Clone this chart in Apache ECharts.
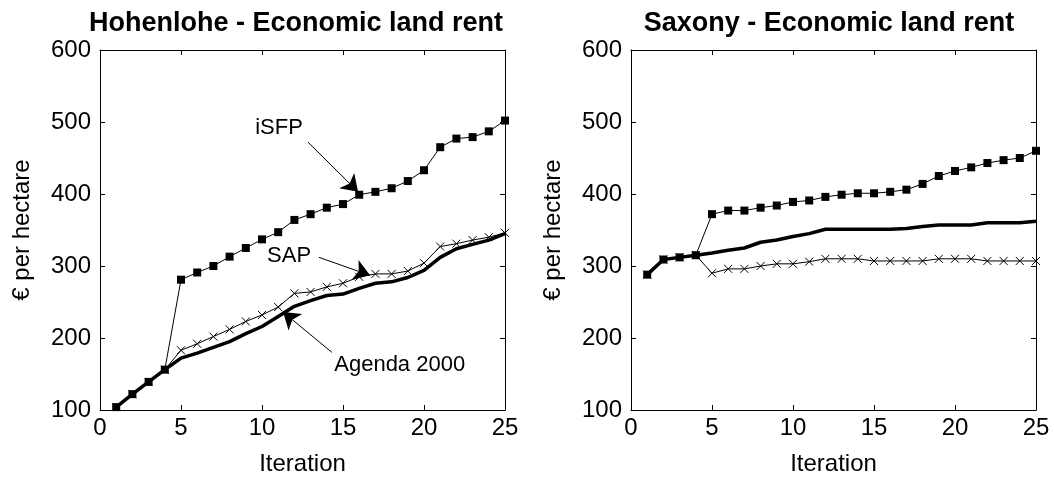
<!DOCTYPE html>
<html lang="en">

<head>
  <meta charset="UTF-8">
  <title>Economic land rent</title>
  <script src="https://cdn.jsdelivr.net/npm/echarts@6/dist/echarts.min.js"></script>
  <style>
    html, body { margin: 0; padding: 0; background: #fff; }
    #chart { width: 1054px; height: 483px; }
  </style>
</head>

<body>
  <div id="chart"></div>
  <script>
    // data
    const iterations = [1, 2, 3, 4, 5, 6, 7, 8, 9, 10, 11, 12, 13, 14, 15, 16, 17, 18, 19, 20, 21, 22, 23, 24, 25];
    const xTicks = [0, 5, 10, 15, 20, 25];
    const yTicks = [100, 200, 300, 400, 500, 600];

    const hohenloheISFP = [104, 122, 139, 156, 281, 291, 300, 313, 325, 337, 347, 364, 372, 381, 386, 399, 403, 408, 418, 433, 465, 477, 479, 487, 502];
    const hohenloheSAP = [104, 122, 139, 156, 183, 192, 202, 212, 223, 232, 243, 262, 264, 271, 276, 285, 289, 289, 293, 304, 327, 331, 336, 340, 346];
    const hohenloheAgenda = [104, 122, 139, 156, 172, 179, 187, 195, 206, 216, 230, 244, 252, 259, 261, 269, 276, 278, 284, 294, 312, 324, 330, 336, 345];

    const saxonyISFP = [288, 309, 312, 315, 372, 377, 377, 381, 384, 389, 391, 396, 399, 401, 401, 403, 406, 414, 425, 432, 437, 443, 447, 450, 460];
    const saxonySAP = [288, 309, 312, 315, 290, 296, 296, 300, 303, 303, 306, 310, 310, 310, 307, 307, 307, 307, 310, 310, 310, 307, 307, 307, 307];
    const saxonyAgenda = [288, 309, 312, 315, 318, 322, 325, 333, 336, 341, 345, 351, 351, 351, 351, 351, 352, 355, 357, 357, 357, 360, 360, 360, 362];

    // annotations in the left panel: [label, text position, arrow start, arrow tip]
    const notes = [
      ['iSFP', [11.05, 492], [12.84, 472], [15.93, 403]],
      ['SAP', [11.67, 314], [13.52, 312], [16.67, 287]],
      ['Agenda 2000', [18.5, 162], [14.32, 180], [11.3, 236]]
    ];

    const FONT = 'Liberation Sans, Arial, sans-serif';
    const crossPath = 'path://M0,0L10,10M0,10L10,0';

    function pairs(ys) {
      return iterations.map((x, i) => [x, ys[i]]);
    }

    let myChart = echarts.init(document.getElementById('chart'));

    function xAxes(gridIndex) {
      let base = {
        gridIndex: gridIndex,
        type: 'value',
        min: xTicks[0],
        max: xTicks[xTicks.length - 1],
        interval: 5,
        splitLine: { show: false },
        axisLine: { show: true, onZero: false, lineStyle: { color: '#000', width: 1 } },
        axisTick: { show: true, inside: true, length: 5, lineStyle: { color: '#000' } }
      };
      return [
        Object.assign({}, base, {
          position: 'bottom',
          name: 'Iteration',
          nameLocation: 'middle',
          nameGap: 42,
          nameTextStyle: { fontFamily: FONT, fontSize: 24, color: '#000' },
          axisLabel: { fontFamily: FONT, fontSize: 24, color: '#000', margin: 6 }
        }),
        Object.assign({}, base, { position: 'top', axisLabel: { show: false } })
      ];
    }

    function yAxes(gridIndex) {
      let base = {
        gridIndex: gridIndex,
        type: 'value',
        min: yTicks[0],
        max: yTicks[yTicks.length - 1],
        interval: 100,
        splitLine: { show: false },
        axisLine: { show: true, onZero: false, lineStyle: { color: '#000', width: 1 } },
        axisTick: { show: true, inside: true, length: 5, lineStyle: { color: '#000' } }
      };
      return [
        Object.assign({}, base, {
          position: 'left',
          name: '€ per hectare',
          nameLocation: 'middle',
          nameGap: 66,
          nameTextStyle: { fontFamily: FONT, fontSize: 24, color: '#000' },
          axisLabel: { fontFamily: FONT, fontSize: 24, color: '#000', margin: 9 }
        }),
        Object.assign({}, base, { position: 'right', axisLabel: { show: false } })
      ];
    }

    function seriesFor(axis, isfp, sap, agenda) {
      return [
        {
          name: 'Agenda 2000',
          type: 'line',
          xAxisIndex: axis, yAxisIndex: axis,
          data: pairs(agenda),
          showSymbol: false,
          lineStyle: { color: '#000', width: 3.5 },
          z: 2
        },
        {
          name: 'SAP',
          type: 'line',
          xAxisIndex: axis, yAxisIndex: axis,
          data: pairs(sap),
          symbol: crossPath,
          symbolSize: 8,
          showAllSymbol: true,
          itemStyle: { color: '#000', borderColor: '#000', borderWidth: 1 },
          lineStyle: { color: '#000', width: 1 },
          z: 3
        },
        {
          name: 'iSFP',
          type: 'line',
          xAxisIndex: axis, yAxisIndex: axis,
          data: pairs(isfp),
          symbol: 'rect',
          symbolSize: 8,
          showAllSymbol: true,
          itemStyle: { color: '#000' },
          lineStyle: { color: '#000', width: 1 },
          z: 4
        }
      ];
    }

    let leftSeries = seriesFor(0, hohenloheISFP, hohenloheSAP, hohenloheAgenda);
    let rightSeries = seriesFor(2, saxonyISFP, saxonySAP, saxonyAgenda);

    // arrows and their texts hang on the left iSFP series
    leftSeries[2].markLine = {
      silent: true,
      symbol: ['none', 'arrow'],
      symbolSize: 16,
      label: { show: false },
      itemStyle: { color: '#000' },
      lineStyle: { color: '#000', width: 1, type: 'solid' },
      data: notes.map(n => [{ coord: n[2] }, { coord: n[3] }])
    };
    leftSeries[2].markPoint = {
      silent: true,
      symbol: 'circle',
      symbolSize: 1,
      itemStyle: { color: 'rgba(0,0,0,0)' },
      label: {
        show: true,
        position: 'inside',
        fontFamily: FONT,
        fontSize: 22,
        color: '#000',
        formatter: p => p.name
      },
      data: notes.map(n => ({ name: n[0], coord: n[1] }))
    };

    let option = {
      animation: false,
      textStyle: { fontFamily: FONT },
      title: [
        {
          text: 'Hohenlohe - Economic land rent',
          left: 291, top: 5, textAlign: 'center',
          textStyle: { fontFamily: FONT, fontSize: 27, fontWeight: 'bold', color: '#000' }
        },
        {
          text: 'Saxony - Economic land rent',
          left: 824, top: 5, textAlign: 'center',
          textStyle: { fontFamily: FONT, fontSize: 27, fontWeight: 'bold', color: '#000' }
        }
      ],
      grid: [
        { left: 100, top: 50, width: 405, height: 360 },
        { left: 631, top: 50, width: 405, height: 360 }
      ],
      xAxis: xAxes(0).concat(xAxes(1)),
      yAxis: yAxes(0).concat(yAxes(1)),
      series: leftSeries.concat(rightSeries)
    };

    myChart.setOption(option);

    window.onresize = function () {
      myChart.resize();
    }
  </script>

</body>

</html>
